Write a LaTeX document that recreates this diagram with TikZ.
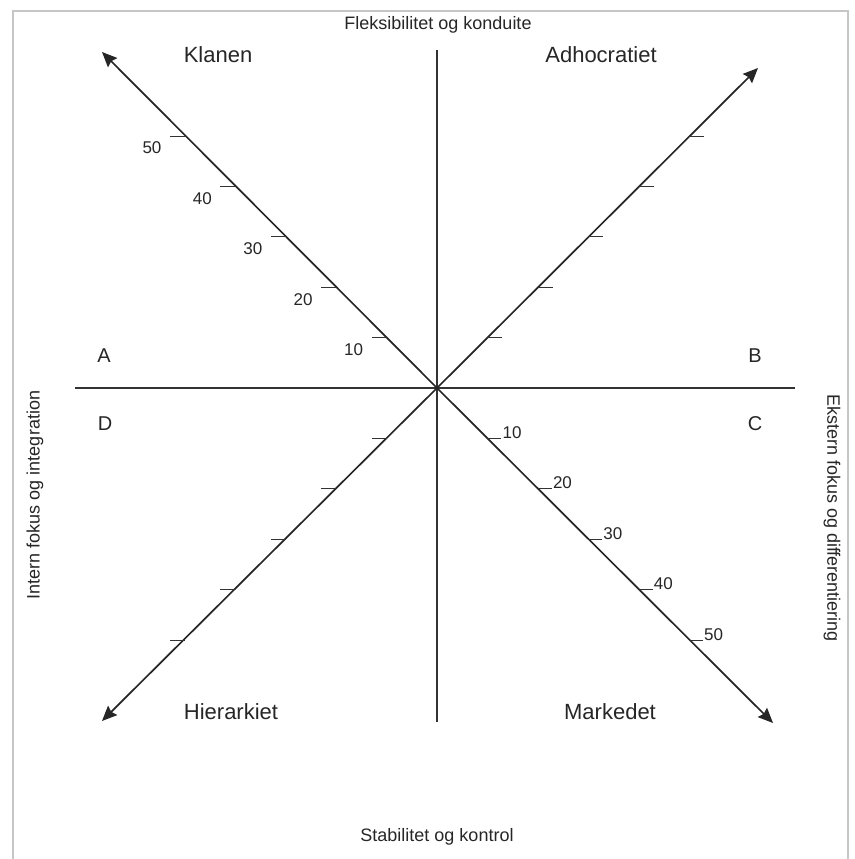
\documentclass[tikz,border=0pt]{standalone}
\usepackage{fontspec}
\setmainfont{Liberation Sans}
\usetikzlibrary{arrows.meta, positioning}
\begin{document}
\begin{tikzpicture}[
    x=1pt, y=-1pt,
    mainaxis/.style={line width=1.3pt, draw=black!80},
    diagaxis/.style={line width=1.7pt, draw=black!85,
                     -{Stealth[length=15pt, width=13pt, inset=2pt]}},
    scaletick/.style={line width=1pt, draw=black!80},
    quadname/.style={font=\fontsize{22}{24}\selectfont, text=black!85},
    letter/.style={font=\fontsize{20}{22}\selectfont, text=black!85},
    sidelabel/.style={font=\fontsize{18}{20}\selectfont, text=black!85},
    ticklabel/.style={font=\fontsize{17}{19}\selectfont, text=black!85, inner sep=0pt}
]
\useasboundingbox (0,0) rectangle (854,859);
\draw[gray!45, line width=1.4pt] (13,859) -- (13,11) -- (848,11) -- (848,859);

\coordinate (O) at (437,388);
\coordinate (west) at (75,388);
\coordinate (east) at (795,388);
\coordinate (north) at (437,50);
\coordinate (south) at (437,722);
\coordinate (nw) at (102,52);
\coordinate (ne) at (758,68);
\coordinate (sw) at (102,721);
\coordinate (se) at (773,723);

\draw[mainaxis] (west) -- (east);
\draw[mainaxis] (north) -- (south);
\draw[diagaxis] (O) -- (nw);
\draw[diagaxis] (O) -- (ne);
\draw[diagaxis] (O) -- (sw);
\draw[diagaxis] (O) -- (se);

\foreach \k in {1,...,5} {
    \draw[scaletick] ([shift={(-50.4*\k,-50.4*\k)}]O) -- ++(-15,0);
    \node[ticklabel] (nw\k) at ([shift={(-50.4*\k-33,-50.4*\k+12)}]O) {\k0};
    \draw[scaletick] ([shift={(50.4*\k,-50.4*\k)}]O) -- ++(15,0);
    \draw[scaletick] ([shift={(-50.4*\k,50.4*\k)}]O) -- ++(-15,0);
    \draw[scaletick] ([shift={(50.4*\k,50.4*\k)}]O) -- ++(14,0)
        coordinate (se\k);
    \node[ticklabel, anchor=base west] (sel\k) at ([xshift=1pt]se\k) {\k0};
}

\node[quadname] (klan) at (218,55) {Klanen};
\node[quadname] (adho) at (601,55) {Adhocratiet};
\node[quadname] (hier) at (231,712) {Hierarkiet};
\node[quadname] (mark) at (610,712) {Markedet};

\node[letter] (A) at (104,356) {A};
\node[letter] (B) at (755,356) {B};
\node[letter] (C) at (755,424) {C};
\node[letter] (D) at (105,424) {D};

\node[sidelabel] (top) at (438,25) {Fleksibilitet og konduite};
\node[sidelabel] (bottom) at (437,837) {Stabilitet og kontrol};
\node[sidelabel, rotate=90] (left) at (35,495) {Intern fokus og integration};
\node[sidelabel, rotate=-90] (right) at (832,518) {Ekstern fokus og differentiering};
\end{tikzpicture}
\end{document}
